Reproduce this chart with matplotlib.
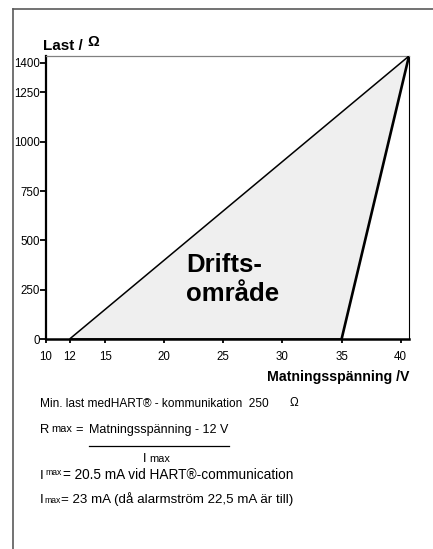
import matplotlib
matplotlib.use("Agg")
import matplotlib.pyplot as plt
from matplotlib.lines import Line2D

plt.rcParams['font.family'] = ['Liberation Sans', 'DejaVu Sans']

# ---- data ----
region_voltage = [12, 40.7, 35]      # V: operating region corners
region_load = [0, 1435, 0]           # Ohm
x_ticks = [10, 12, 15, 20, 25, 30, 35, 40]
y_ticks = [0, 250, 500, 750, 1000, 1250, 1400]
x_range = [10, 40.7]
y_range = [0, 1435]

W, H = 433, 549
DPI = 100
fig = plt.figure(figsize=(W / DPI, H / DPI), dpi=DPI)
fig.patch.set_facecolor('white')

def fx(x):
    return x / W

def fy(y):
    return 1 - y / H

# outer frame (left and top edges)
fig.add_artist(Line2D([fx(13), fx(13)], [fy(9), fy(549)], color='#5a5a5a', lw=1.2))
fig.add_artist(Line2D([fx(13), fx(433)], [fy(9), fy(9)], color='#5a5a5a', lw=1.2))

ax_l, ax_r, ax_t, ax_b = 46, 409, 56, 339
ax = fig.add_axes([fx(ax_l), fy(ax_b), (ax_r - ax_l) / W, (ax_b - ax_t) / H])
ax.set_xlim(*x_range)
ax.set_ylim(*y_range)

ax.fill(region_voltage, region_load, color='#efefef', zorder=1)
ax.plot([region_voltage[0], region_voltage[1]], [region_load[0], region_load[1]],
        color='black', lw=1.1, zorder=3, solid_capstyle='butt')
ax.plot([region_voltage[2], region_voltage[1]], [region_load[2], region_load[1]],
        color='black', lw=1.9, zorder=3, solid_capstyle='butt')
ax.plot([region_voltage[0], region_voltage[2]], [region_load[0], region_load[2]],
        color='black', lw=1.9, zorder=3, solid_capstyle='butt')

ax.spines['left'].set_linewidth(1.6)
ax.spines['left'].set_color('black')
ax.spines['bottom'].set_linewidth(1.8)
ax.spines['bottom'].set_color('black')
ax.spines['top'].set_linewidth(0.9)
ax.spines['top'].set_color('#808080')
ax.spines['right'].set_linewidth(0.8)
ax.spines['right'].set_color('black')

ax.set_xticks(x_ticks)
ax.set_yticks(y_ticks)
ax.set_xticklabels([str(v) for v in x_ticks])
ax.set_yticklabels([str(v) for v in y_ticks])
ax.tick_params(axis='x', direction='out', length=3, width=1.3, pad=5.5, labelsize=8.3)
ax.tick_params(axis='y', direction='out', length=4, width=1.3, pad=0.5, labelsize=8.3)

# region label
fig.text(fx(186), fy(272), 'Drifts-', fontsize=18.5, fontweight='bold', va='baseline', ha='left')
fig.text(fx(186), fy(301), 'område', fontsize=18.5, fontweight='bold', va='baseline', ha='left')

# axis titles
fig.text(fx(43), fy(50), 'Last / ', fontsize=11, fontweight='bold', va='baseline', ha='left')
fig.text(fx(87), fy(46), 'Ω', fontsize=10.5, fontweight='bold', va='baseline', ha='left')
fig.text(fx(409), fy(381), 'Matningsspänning /V', fontsize=10.2, fontweight='bold',
         va='baseline', ha='right')

# notes
fig.text(fx(40), fy(407), 'Min. last medHART® - kommunikation  250', fontsize=8.6, va='baseline')
fig.text(fx(290), fy(406), 'Ω', fontsize=8.5, va='baseline')

fig.text(fx(40), fy(433), 'R', fontsize=9.3, va='baseline')
fig.text(fx(51), fy(432), 'max', fontsize=7.9, va='baseline')
fig.text(fx(75), fy(433), '=', fontsize=9.3, va='baseline')
fig.text(fx(89), fy(433), 'Matningsspänning - 12 V', fontsize=9.0, va='baseline')
fig.add_artist(Line2D([fx(89), fx(229)], [fy(446), fy(446)], color='black', lw=0.9))
fig.text(fx(143), fy(462), 'I', fontsize=9.3, va='baseline')
fig.text(fx(149.5), fy(462), 'max', fontsize=7.9, va='baseline')

fig.text(fx(40), fy(479), 'I', fontsize=9.6, va='baseline')
fig.text(fx(45.5), fy(475), 'max', fontsize=6.2, va='baseline')
fig.text(fx(63), fy(479), '= 20.5 mA vid HART®-communication', fontsize=9.8, va='baseline')

fig.text(fx(40), fy(503), 'I', fontsize=9.6, va='baseline')
fig.text(fx(44.5), fy(503), 'max', fontsize=6.2, va='baseline')
fig.text(fx(61), fy(503), '= 23 mA (då alarmström 22,5 mA är till)', fontsize=9.6, va='baseline')

fig.savefig('out.png', dpi=DPI, facecolor='white')
